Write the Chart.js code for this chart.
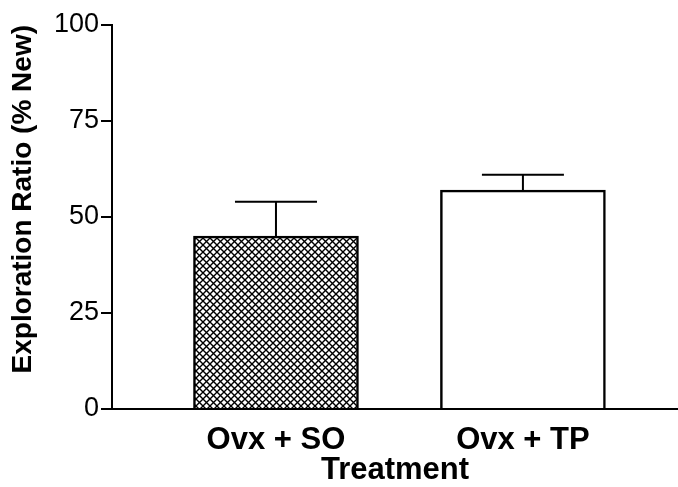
<!DOCTYPE html>
<html>
<head>
<meta charset="utf-8">
<script src="https://cdn.jsdelivr.net/npm/chart.js@4/dist/chart.umd.min.js"></script>
<style>
  html, body { margin: 0; padding: 0; background: #fff; }
  #wrap { width: 678px; height: 487px; }
</style>
</head>
<body>
<div id="wrap"><canvas id="chart"></canvas></div>
<script>
const categories = ['Ovx + SO', 'Ovx + TP']
const means = [45, 57]
const errUp = [9, 4]
const yTicks = [0, 25, 50, 75, 100]

// crosshatch fill for the first bar
const makeHatch = () => {
  const n = 7
  const c = document.createElement('canvas')
  c.width = n
  c.height = n
  const g = c.getContext('2d')
  g.fillStyle = '#fff'
  g.fillRect(0, 0, n, n)
  g.strokeStyle = '#000'
  g.lineWidth = 1.4
  g.beginPath()
  g.moveTo(-1, -1); g.lineTo(n + 1, n + 1)
  g.moveTo(n + 1, -1); g.lineTo(-1, n + 1)
  g.stroke()
  return document.getElementById('chart').getContext('2d').createPattern(c, 'repeat')
}

const errorBars = {
  id: 'errorBars',
  afterDatasetsDraw(chart) {
    const { ctx, scales: { x, y } } = chart
    ctx.save()
    ctx.strokeStyle = '#000'
    ctx.lineWidth = 2
    means.forEach((m, i) => {
      const px = x.getPixelForValue(i + 1)
      const top = y.getPixelForValue(m + errUp[i])
      const base = y.getPixelForValue(m)
      ctx.beginPath()
      ctx.moveTo(px, base)
      ctx.lineTo(px, top)
      ctx.moveTo(px - 41, top)
      ctx.lineTo(px + 41, top)
      ctx.stroke()
    })
    ctx.restore()
  }
}

Chart.defaults.font.family = '"Liberation Sans", Arial, sans-serif'
Chart.defaults.color = '#000'

new Chart(document.getElementById('chart'), {
  type: 'bar',
  data: {
    datasets: [{
      data: means.map((m, i) => ({ x: i + 1, y: m })),
      backgroundColor: [makeHatch(), '#fff'],
      borderColor: '#000',
      borderWidth: 2.5,
      barThickness: 165
    }]
  },
  options: {
    responsive: true,
    maintainAspectRatio: false,
    animation: false,
    layout: { padding: { top: 25, right: 0, left: 0, bottom: 0 } },
    plugins: { legend: { display: false }, tooltip: { enabled: false } },
    scales: {
      x: {
        type: 'linear',
        offset: false,
        min: 0.336,
        max: 2.628,
        afterBuildTicks: (s) => { s.ticks = categories.map((c, i) => ({ value: i + 1 })) },
        afterFit: (s) => { s.height = 78 },
        grid: { display: false, drawTicks: false },
        border: { display: true, color: '#000', width: 2 },
        ticks: {
          padding: 13,
          autoSkip: false,
          maxRotation: 0,
          font: { size: 31, weight: 'bold' },
          callback: (v) => categories[v - 1]
        },
        title: {
          display: true,
          text: 'Treatment',
          font: { size: 31, weight: 'bold' },
          padding: { top: 0, bottom: -2 }
        }
      },
      y: {
        min: 0,
        max: 100,
        afterBuildTicks: (s) => { s.ticks = yTicks.map(v => ({ value: v })) },
        afterFit: (s) => { s.width = 112 },
        grid: { drawOnChartArea: false, drawTicks: true, tickLength: 11, color: '#000', lineWidth: 2 },
        border: { display: true, color: '#000', width: 2 },
        ticks: { padding: 2, font: { size: 27 } },
        title: {
          display: true,
          text: 'Exploration Ratio (% New)',
          align: 'end',
          font: { size: 28, weight: 'bold' },
          padding: { top: 6, bottom: 0 }
        }
      }
    }
  },
  plugins: [errorBars]
});
</script>
</body>
</html>
